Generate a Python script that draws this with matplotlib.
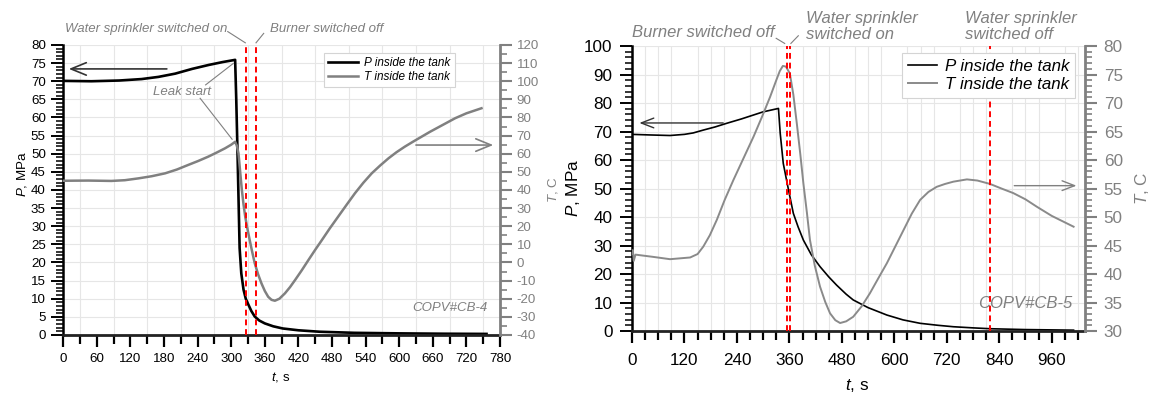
import matplotlib
matplotlib.use("Agg")
from matplotlib import pyplot as plt
from matplotlib.ticker import MultipleLocator

plt.rcParams["font.family"] = ["Liberation Sans", "DejaVu Sans"]
plt.rcParams["mathtext.fontset"] = "custom"
plt.rcParams["mathtext.it"] = "Liberation Sans:italic"
plt.rcParams["mathtext.rm"] = "Liberation Sans"
plt.rcParams["axes.unicode_minus"] = False

GREY = "#808080"
GRID = "#e6e6e6"

# ---- COPV#CB-4 (left) ----
t_p4 = [0, 50, 100, 140, 170, 200, 230, 260, 285, 307, 309, 311, 313, 315, 318, 322, 326,
        330, 336, 342, 350, 360, 375, 392, 420, 458, 520, 600, 680, 756]
p_4 = [70.1, 70.0, 70.2, 70.6, 71.2, 72.1, 73.4, 74.5, 75.3, 75.9, 65, 52, 38, 24, 17, 12.5,
       10, 8.6, 6.6, 5.1, 4.0, 3.2, 2.4, 1.8, 1.3, 0.9, 0.6, 0.45, 0.35, 0.3]
t_t4 = [0, 45, 86, 110, 134, 158, 182, 203, 223, 241, 259, 275, 289, 300, 307, 310, 313, 316,
        319, 322, 325, 329, 333, 337, 342, 348, 354, 360, 366, 372, 378, 386, 396, 405, 414,
        426, 438, 450, 462, 476, 491, 506, 521, 536, 551, 566, 581, 595, 610, 625, 640, 655,
        670, 685, 700, 720, 747]
temp_4 = [45.1, 45.2, 45.0, 45.4, 46.4, 47.6, 49.2, 51.3, 53.8, 56.0, 58.4, 60.8, 63.0, 65.0,
          66.6, 64.5, 60.2, 50.0, 40.0, 32.0, 25.3, 18.5, 12.4, 6.5, -0.4, -6.5, -11.5, -15.7,
          -18.9, -20.6, -21.1, -20.0, -17.0, -13.6, -9.7, -4.3, 1.4, 7.0, 12.4, 18.8, 25.3,
          31.8, 38.2, 44.0, 49.2, 53.5, 57.5, 60.8, 63.9, 66.7, 69.4, 72.1, 74.6, 77.1, 79.6,
          82.3, 85.1]
events_4 = [326, 344]

# ---- COPV#CB-5 (right) ----
t_p5 = [0, 40, 87, 120, 140, 163, 190, 217, 250, 278, 300, 335, 339, 346, 358, 369, 380, 392,
        410, 430, 450, 468, 490, 506, 540, 583, 620, 659, 700, 735, 780, 819, 900, 1010]
p_5 = [69.0, 68.8, 68.6, 69.0, 69.5, 70.5, 71.6, 72.9, 74.4, 75.8, 76.9, 78.1, 69.4, 58.8,
       49.5, 41.3, 36.5, 31.9, 26.8, 22.6, 19.0, 16.1, 12.9, 10.9, 8.2, 5.6, 3.9, 2.7, 2.0,
       1.5, 1.1, 0.8, 0.5, 0.3]
t_t5 = [0, 2, 4, 8, 49, 87, 133, 150, 163, 178, 194, 212, 232, 255, 278, 298, 316, 330, 338,
        345, 352, 361, 369, 377, 385, 392, 400, 407, 418, 430, 442, 453, 465, 476, 490, 506,
        525, 544, 563, 583, 602, 621, 640, 659, 678, 697, 716, 735, 766, 790, 819, 845, 872,
        900, 926, 960, 1010]
temp_5 = [43.6, 44.2, 42.3, 43.4, 43.0, 42.6, 42.9, 43.5, 44.8, 46.8, 49.5, 53.0, 56.5, 60.3,
          64.1, 67.7, 71.1, 74.0, 75.6, 76.5, 76.4, 75.2, 71.5, 66.4, 61.0, 55.9, 50.8, 46.0,
          41.5, 37.8, 35.1, 33.1, 31.9, 31.4, 31.7, 32.5, 34.3, 36.6, 39.2, 41.9, 44.8, 47.7,
          50.6, 53.0, 54.4, 55.3, 55.8, 56.2, 56.6, 56.4, 55.8, 55.0, 54.2, 53.1, 51.8, 50.2,
          48.3]
events_5 = [354, 361, 819]

fig = plt.figure(figsize=(11.52, 3.95), dpi=100)


def style_axes(ax, axt, fs, xpad, ypad):
    for s in ["top", "right"]:
        ax.spines[s].set_visible(False)
    for s in ["left", "bottom", "top"]:
        axt.spines[s].set_visible(False)
    ax.spines["left"].set_linewidth(1.8)
    ax.spines["bottom"].set_linewidth(2.0)
    ax.spines["bottom"].set_color("#222222")
    axt.spines["right"].set_linewidth(2.0)
    axt.spines["right"].set_color(GREY)
    ax.tick_params(axis="x", which="major", length=8.5, width=1.6, labelsize=fs, pad=xpad)
    ax.tick_params(axis="x", which="minor", length=6.2, width=1.6)
    ax.tick_params(axis="y", which="major", length=9, width=1.4, labelsize=fs, pad=ypad)
    ax.tick_params(axis="y", which="minor", length=5, width=1.1)
    axt.tick_params(axis="y", which="major", length=8.5, width=1.5, labelsize=fs, pad=ypad,
                    colors=GREY)
    axt.tick_params(axis="y", which="minor", length=5.2, width=1.2, colors=GREY)
    ax.grid(True, which="minor", axis="x", color=GRID, lw=0.8)
    ax.grid(True, which="major", axis="y", color=GRID, lw=0.8)
    ax.set_axisbelow(True)


def add_labels(ax, axt, fs, py, ty, xy):
    ax.set_ylabel(r"$P$, MPa", fontsize=fs)
    ax.yaxis.label.set_va("center")
    ax.yaxis.set_label_coords(*py)
    axt.set_ylabel(r"$T$, C", fontsize=fs, color=GREY, rotation=90)
    axt.yaxis.label.set_va("center")
    axt.yaxis.set_label_coords(*ty)
    ax.set_xlabel(r"$t$, s", fontsize=fs)
    ax.xaxis.label.set_va("center")
    ax.xaxis.set_label_coords(*xy)


def add_legend(ax, axt, anchor, fs, hl):
    h1, l1 = ax.get_legend_handles_labels()
    h2, l2 = axt.get_legend_handles_labels()
    leg = axt.legend(h1 + h2, l1 + l2, loc="upper right", bbox_to_anchor=anchor,
                     fontsize=fs, frameon=True, fancybox=False, edgecolor="#d4d4d4",
                     framealpha=1, handlelength=hl, borderpad=0.35, labelspacing=0.15,
                     handletextpad=0.5, borderaxespad=0)
    leg.get_frame().set_linewidth(0.8)
    for txt in leg.get_texts():
        txt.set_fontstyle("italic")


# left panel
ax1 = fig.add_axes([0.0549, 0.1519, 0.3791, 0.7342])
ax1t = ax1.twinx()
ax1.plot(t_p4, p_4, color="black", lw=1.9, label="P inside the tank")
ax1t.plot(t_t4, temp_4, color=GREY, lw=1.8, label="T inside the tank")
ax1.set_xlim(0, 780)
ax1.set_ylim(0, 80)
ax1t.set_ylim(-40, 120)
ax1.xaxis.set_major_locator(MultipleLocator(60))
ax1.xaxis.set_minor_locator(MultipleLocator(30))
ax1.yaxis.set_major_locator(MultipleLocator(5))
ax1.yaxis.set_minor_locator(MultipleLocator(1))
ax1t.yaxis.set_major_locator(MultipleLocator(10))
ax1t.yaxis.set_minor_locator(MultipleLocator(5))
style_axes(ax1, ax1t, 9.6, 4.5, 3.5)
for tv in events_4:
    ax1t.axvline(tv, color="red", ls=(0, (3, 2)), lw=1.4)
add_labels(ax1, ax1t, 9.6, (-0.095, 0.555), (1.122, 0.5), (0.4985, -0.144))
add_legend(ax1, ax1t, (0.8965, 0.973), 8.5, 2.6)

ann = dict(color=GREY, fontstyle="italic", fontsize=9.5)
ax1.text(293.8, 84.3, "Water sprinkler switched on", ha="right", va="center", clip_on=False, **ann)
ax1.text(369.2, 84.3, "Burner switched off", ha="left", va="center", clip_on=False, **ann)
ax1.plot([293.8, 325.2], [83.7, 80.6], color=GREY, lw=0.8, clip_on=False)
ax1.plot([358, 344.3], [83.2, 80.6], color=GREY, lw=0.8, clip_on=False)
ax1.text(211.7, 67.0, "Leak start", ha="center", va="center", **ann)
ax1.plot([254.3, 303.6], [69.0, 74.9], color=GREY, lw=0.8)
ax1.plot([244.5, 301.6], [65.3, 54.0], color=GREY, lw=0.8)
ax1.text(758.5, 7.4, "COPV#CB-4", ha="right", va="center", **ann)
ax1.annotate("", xy=(5, 73.4), xytext=(190, 73.4),
             arrowprops=dict(arrowstyle="->,head_length=1.1,head_width=0.45", color="#333333", lw=1.2))
ax1t.annotate("", xy=(773, 64.8), xytext=(625, 64.8),
              arrowprops=dict(arrowstyle="->,head_length=1.1,head_width=0.45", color=GREY, lw=1.2))

# right panel
ax2 = fig.add_axes([0.5486, 0.162, 0.3932, 0.7215])
ax2t = ax2.twinx()
ax2.plot(t_p5, p_5, color="black", lw=1.2, label="P inside the tank")
ax2t.plot(t_t5, temp_5, color="#8a8a8a", lw=1.4, label="T inside the tank")
ax2.set_xlim(0, 1036)
ax2.set_ylim(0, 100)
ax2t.set_ylim(30, 80)
ax2.xaxis.set_major_locator(MultipleLocator(120))
ax2.xaxis.set_minor_locator(MultipleLocator(30))
ax2.yaxis.set_major_locator(MultipleLocator(10))
ax2.yaxis.set_minor_locator(MultipleLocator(2))
ax2t.yaxis.set_major_locator(MultipleLocator(5))
ax2t.yaxis.set_minor_locator(MultipleLocator(1))
style_axes(ax2, ax2t, 12.3, 7, 5)
for tv in events_5:
    ax2t.axvline(tv, color="red", ls=(0, (3, 2)), lw=1.4)
add_labels(ax2, ax2t, 12.3, (-0.13, 0.502), (1.125, 0.502), (0.497, -0.19))
add_legend(ax2, ax2t, (0.979, 0.974), 12.2, 1.7)

ann = dict(color=GREY, fontstyle="italic", fontsize=12)
ax2.text(325.7, 104.7, "Burner switched off", ha="right", va="center", clip_on=False, **ann)
ax2.text(397, 106.8, "Water sprinkler\nswitched on", ha="left", va="center",
         linespacing=1.12, clip_on=False, **ann)
ax2.text(761, 106.8, "Water sprinkler\nswitched off", ha="left", va="center",
         linespacing=1.12, clip_on=False, **ann)
ax2.plot([329.8, 349.3], [102.7, 100.9], color=GREY, lw=0.8, clip_on=False)
ax2.plot([380.4, 363.4], [103.6, 100.9], color=GREY, lw=0.8, clip_on=False)
ax2.text(1006, 9.7, "COPV#CB-5", ha="right", va="center", **ann)
ax2.annotate("", xy=(10.5, 73.0), xytext=(215, 73.0),
             arrowprops=dict(arrowstyle="->,head_length=0.9,head_width=0.35", color="#333333", lw=1.0))
ax2t.annotate("", xy=(1023, 55.5), xytext=(868, 55.5),
              arrowprops=dict(arrowstyle="->,head_length=0.9,head_width=0.35", color=GREY, lw=1.0))

fig.savefig("out.png", dpi=100)
